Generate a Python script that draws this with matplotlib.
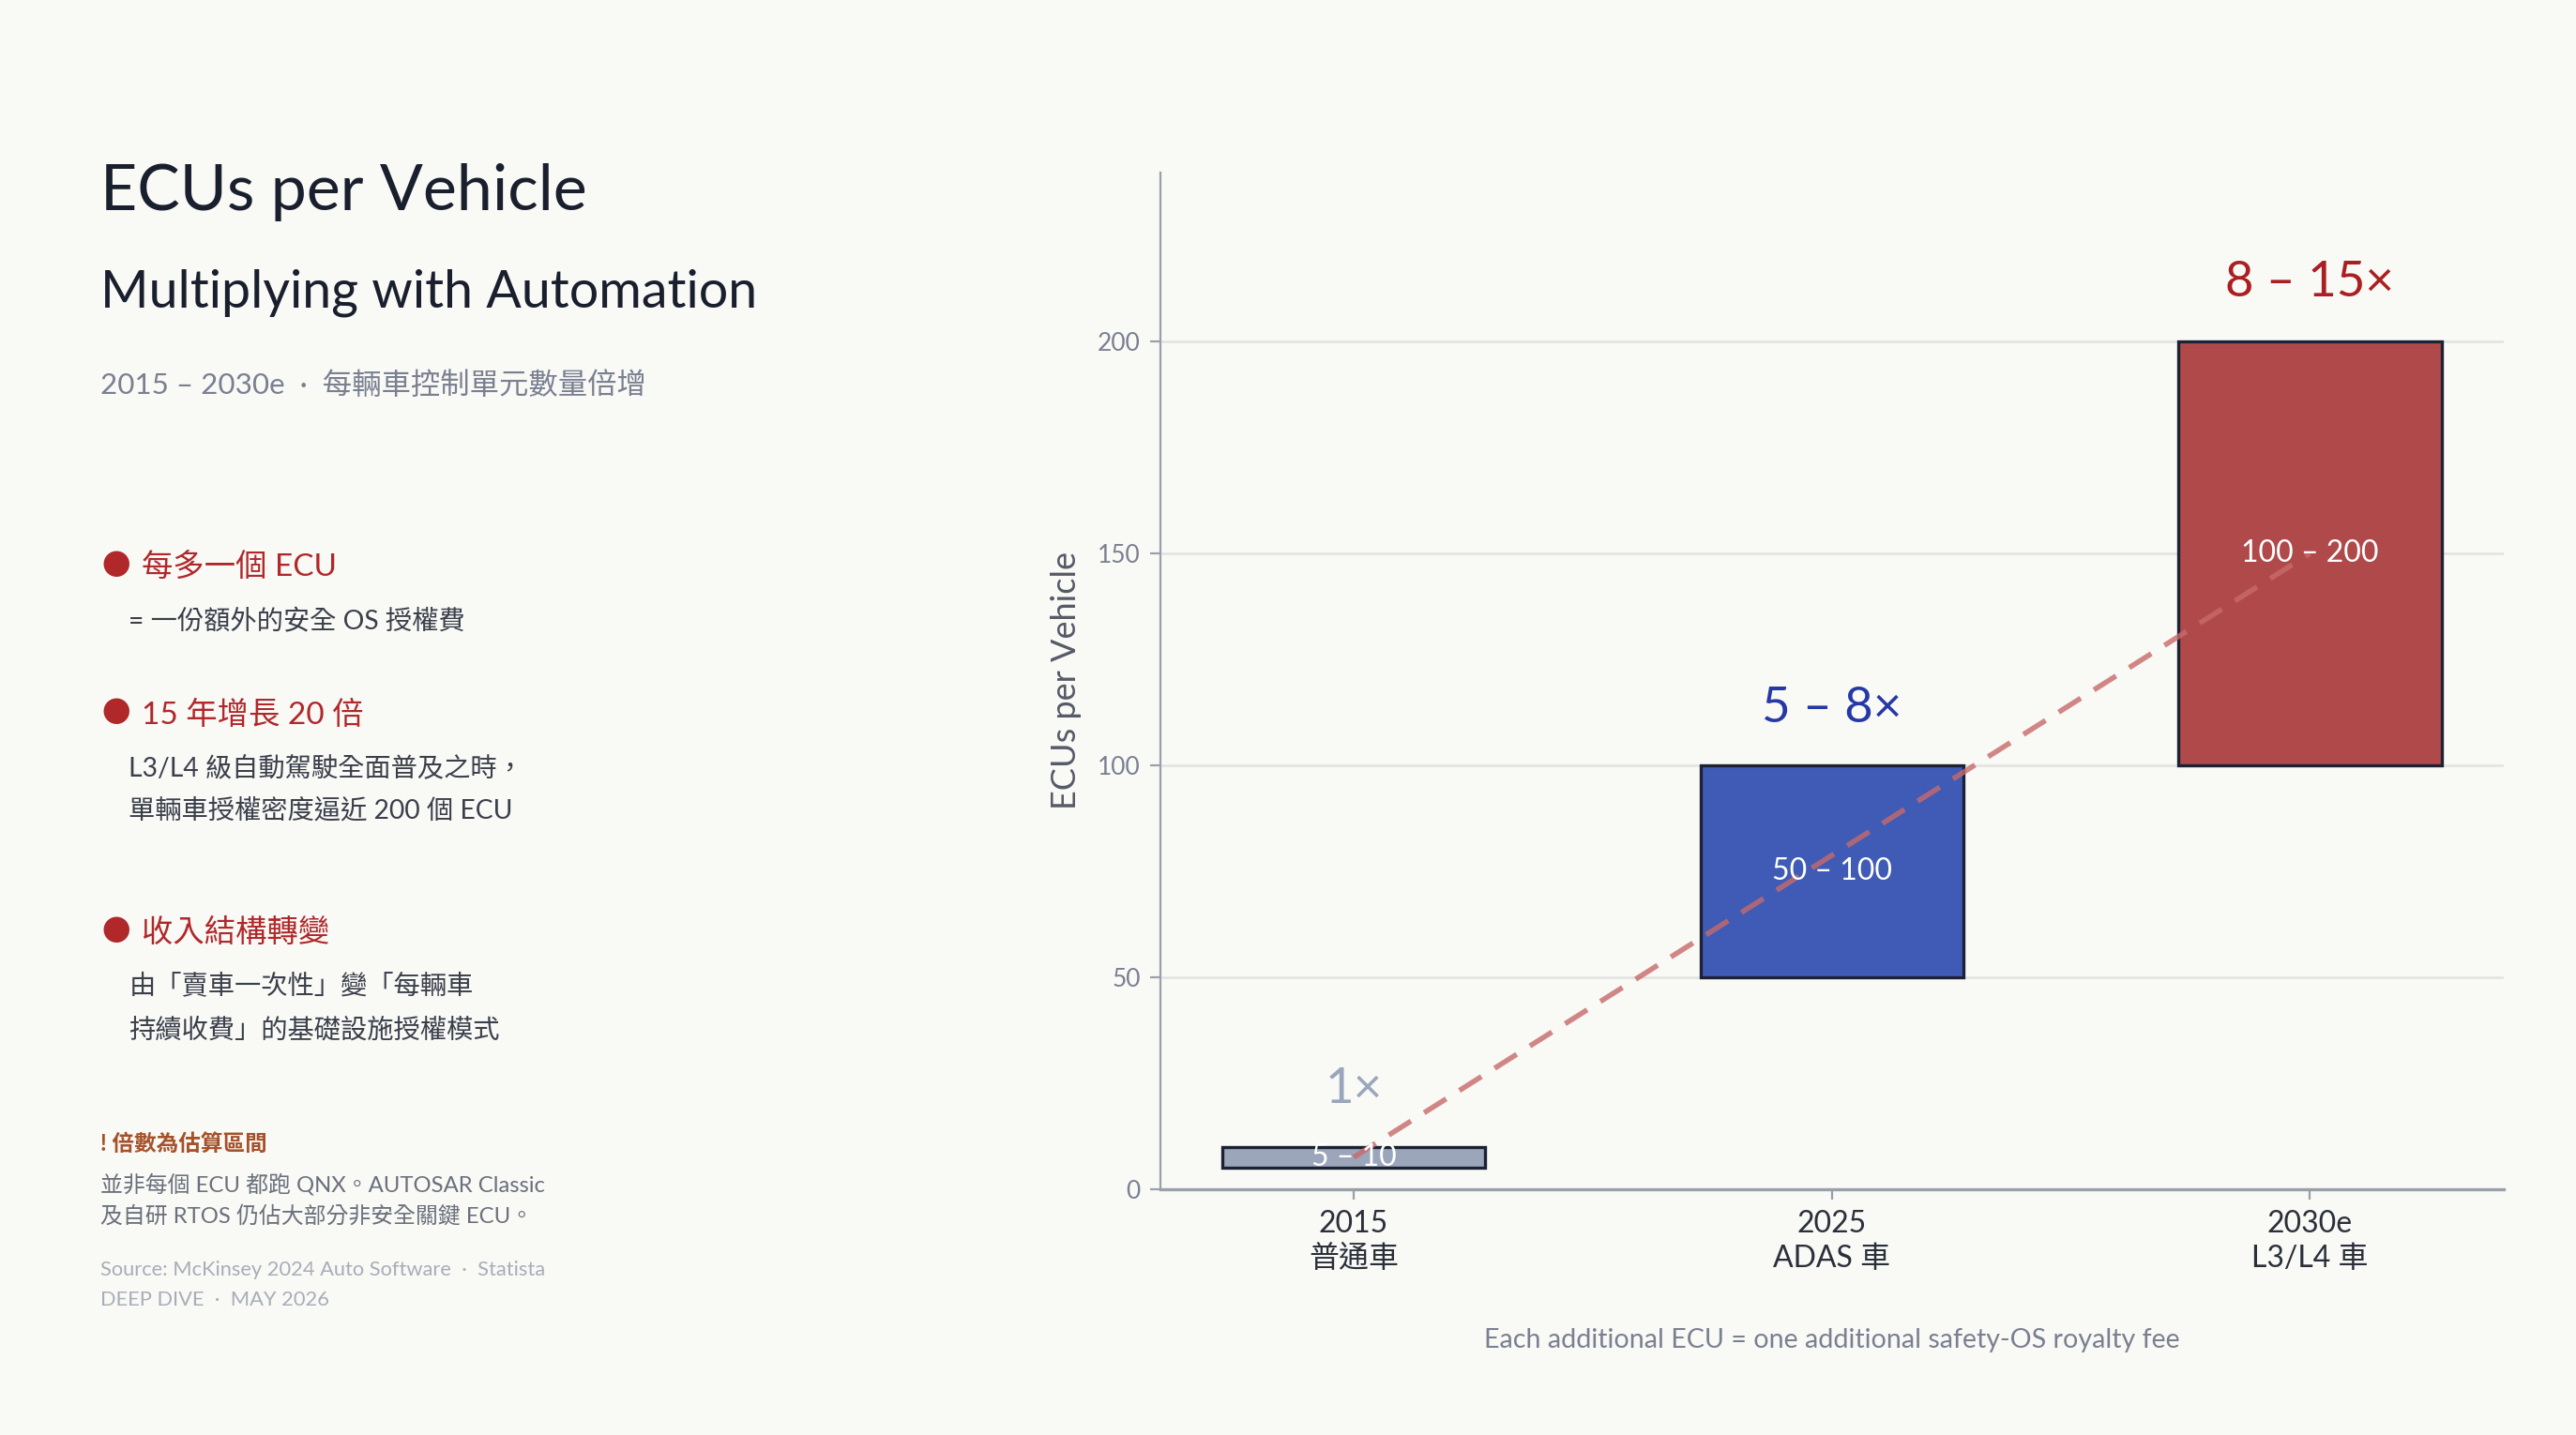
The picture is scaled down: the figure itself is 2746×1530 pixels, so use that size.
import matplotlib.pyplot as plt
import numpy as np

plt.rcParams['font.family'] = ['Lato', 'Noto Sans CJK TC', 'DejaVu Sans']

# data
categories = ["2015\n普通車", "2025\nADAS 車", "2030e\nL3/L4 車"]
low = np.array([5, 50, 100])
high = np.array([10, 100, 200])
range_labels = ["5 – 10", "50 – 100", "100 – 200"]
multipliers = ["1×", "5 – 8×", "8 – 15×"]
mult_y = [23.5, 113.5, 214]
yticks = [0, 50, 100, 150, 200]

bar_colors = ["#9ba6ba", "#3f5bb6", "#b0494a"]
mult_colors = ["#9aa6bb", "#2539a6", "#a91f22"]

BG = "#f9f9f6"
fig = plt.figure(figsize=(13.73, 7.65), dpi=200, facecolor=BG)

ax = fig.add_axes([0.4503, 0.1714, 0.5216, 0.7086], facecolor=BG)
x = np.arange(len(categories))
ax.bar(x, high - low, bottom=low, width=0.55, color=bar_colors,
       edgecolor="#1c2233", linewidth=1.2, zorder=3)

for i in range(len(x)):
    ax.text(x[i], (low[i] + high[i]) / 2, range_labels[i], ha="center",
            va="center", color="white", fontsize=11.5, zorder=5)
    ax.text(x[i], mult_y[i], multipliers[i], ha="center", va="center",
            color=mult_colors[i], fontsize=19, zorder=5)

mid = (low + high) / 2
ax.plot([x[0], x[-1]], [mid[0], mid[-1]], "--", color="#c86a6a", lw=2,
        alpha=0.8, dashes=(5, 3), zorder=4)

ax.set_xlim(-0.405, 2.405)
ax.set_ylim(0, 240)
ax.set_yticks(yticks)
ax.set_xticks(x)
ax.set_xticklabels(categories, fontsize=11.5, color="#2a2f3a", linespacing=1.3)
ax.tick_params(axis="y", labelsize=9.5, labelcolor="#7a8090", color="#9aa0aa",
               length=4)
ax.tick_params(axis="x", color="#9aa0aa", length=4, pad=4)
ax.grid(axis="y", color="#e2e2e2", lw=0.9, zorder=0)
ax.set_axisbelow(True)
for s in ["top", "right"]:
    ax.spines[s].set_visible(False)
for s in ["left", "bottom"]:
    ax.spines[s].set_color("#9aa0aa")
ax.spines["bottom"].set_linewidth(1.2)
ax.set_ylabel("ECUs per Vehicle", fontsize=13, color="#555a66", labelpad=6)

fig.text(0.711, 0.066, "Each additional ECU = one additional safety-OS royalty fee",
         ha="center", va="center", fontsize=10.3, color="#7a8090")

# left panel
L = 0.039
fig.text(L, 0.866, "ECUs per Vehicle", fontsize=24.5, color="#1a1f2e", va="center")
fig.text(L, 0.796, "Multiplying with Automation", fontsize=20, color="#1a1f2e",
         va="center")
fig.text(L, 0.732, "2015 – 2030e  ·  每輛車控制單元數量倍增", fontsize=11.3,
         color="#7a8090", va="center")

red = "#b0282a"
body = "#3a3f4a"
bullets = [
    (0.605, "每多一個 ECU", ["= 一份額外的安全 OS 授權費"], [0.567]),
    (0.502, "15 年增長 20 倍", ["L3/L4 級自動駕駛全面普及之時，",
                                "單輛車授權密度逼近 200 個 ECU"], [0.464, 0.435]),
    (0.350, "收入結構轉變", ["由「賣車一次性」變「每輛車",
                             "持續收費」的基礎設施授權模式"], [0.313, 0.282]),
]
for yb, head, lines, ys in bullets:
    fig.text(0.0395, yb, "●", fontsize=11, color=red, va="center",
             family="Noto Sans CJK TC")
    fig.text(0.055, yb, head, fontsize=12, color=red, va="center")
    for t, yy in zip(lines, ys):
        fig.text(0.050, yy, t, fontsize=10.2, color=body, va="center")

fig.text(L, 0.203, "! 倍數為估算區間", fontsize=8.5, color="#a5522a", va="center",
         fontweight="bold")
fig.text(L, 0.175, "並非每個 ECU 都跑 QNX。AUTOSAR Classic", fontsize=8.6,
         color="#6a707c", va="center")
fig.text(L, 0.153, "及自研 RTOS 仍佔大部分非安全關鍵 ECU。", fontsize=8.6,
         color="#6a707c", va="center")
fig.text(L, 0.115, "Source: McKinsey 2024 Auto Software  ·  Statista", fontsize=7.9,
         color="#a8aeb8", va="center")
fig.text(L, 0.094, "DEEP DIVE  ·  MAY 2026", fontsize=7.9, color="#a8aeb8",
         va="center")

fig.savefig("out.png", dpi=200, facecolor=BG)
